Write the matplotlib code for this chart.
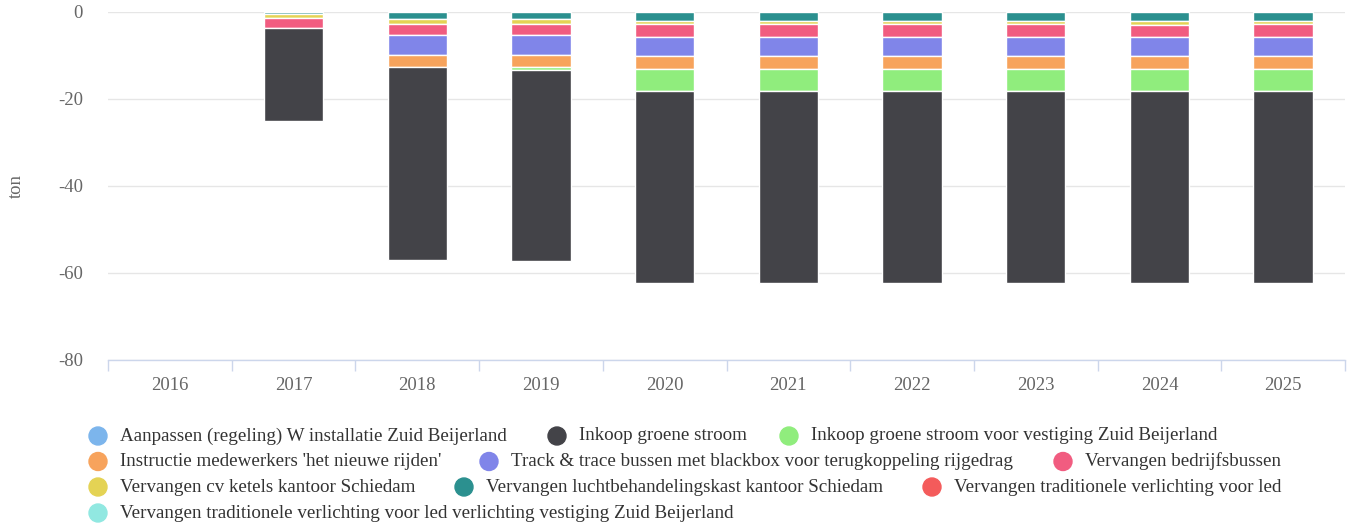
import matplotlib
matplotlib.use("Agg")
import matplotlib.pyplot as plt
from matplotlib.patches import Ellipse
import numpy as np

plt.rcParams['font.family'] = ['Liberation Serif', 'DejaVu Serif']

years = ['2016', '2017', '2018', '2019', '2020', '2021', '2022', '2023', '2024', '2025']

aanpassen_w_zb = [0, 0, 0, 0, 0, 0, 0, 0, 0, 0]
inkoop_groene_stroom = [0, -21.4, -44.2, -43.7, -44.0, -44.0, -44.0, -44.0, -44.0, -44.0]
inkoop_groene_stroom_zb = [0, 0, 0, -0.77, -5.15, -5.15, -5.15, -5.15, -5.15, -5.15]
instructie_rijden = [0, 0, -2.91, -2.87, -2.95, -2.95, -2.95, -2.95, -2.95, -2.95]
track_trace = [0, 0, -4.42, -4.42, -4.39, -4.39, -4.39, -4.39, -4.39, -4.39]
bedrijfsbussen = [0, -2.2, -2.6, -2.6, -3.0, -3.0, -3.0, -3.0, -2.6, -3.0]
cv_ketels = [0, -0.9, -1.1, -1.1, -0.7, -0.7, -0.7, -0.7, -1.05, -0.7]
luchtbehandeling = [0, -0.6, -1.77, -1.77, -2.13, -2.13, -2.13, -2.13, -2.13, -2.13]
verlichting_led = [0, 0, 0, 0, 0, 0, 0, 0, 0, 0]
verlichting_led_zb = [0, 0, 0, 0, 0, 0, 0, 0, 0, 0]

series_names = [
    "Aanpassen (regeling) W installatie Zuid Beijerland",
    "Inkoop groene stroom",
    "Inkoop groene stroom voor vestiging Zuid Beijerland",
    "Instructie medewerkers 'het nieuwe rijden'",
    "Track & trace bussen met blackbox voor terugkoppeling rijgedrag",
    "Vervangen bedrijfsbussen",
    "Vervangen cv ketels kantoor Schiedam",
    "Vervangen luchtbehandelingskast kantoor Schiedam",
    "Vervangen traditionele verlichting voor led",
    "Vervangen traditionele verlichting voor led verlichting vestiging Zuid Beijerland",
]
series_values = [aanpassen_w_zb, inkoop_groene_stroom, inkoop_groene_stroom_zb,
                 instructie_rijden, track_trace, bedrijfsbussen, cv_ketels,
                 luchtbehandeling, verlichting_led, verlichting_led_zb]
colors = ['#7cb5ec', '#434348', '#90ed7d', '#f7a35c', '#8085e9',
          '#f15c80', '#e4d354', '#2b908f', '#f45b5b', '#91e8e1']

W, H = 1353, 526
fig = plt.figure(figsize=(W / 100, H / 100), dpi=100)
left_px, right_px, top_px, bot_px = 108, 1345, 11.5, 360
ax = fig.add_axes([left_px / W, 1 - bot_px / H, (right_px - left_px) / W, (bot_px - top_px) / H])

x = np.arange(len(years))
# stack: last series closest to zero
bottom = np.zeros(len(years))
for name, vals, col in reversed(list(zip(series_names, series_values, colors))):
    v = np.array(vals, dtype=float)
    lw = [1.0 if val != 0 else 0.0 for val in v]
    ax.bar(x, v, bottom=bottom, width=0.48, color=col, edgecolor='white', linewidth=lw, zorder=3)
    bottom = bottom + v

ax.set_xlim(-0.5, len(years) - 0.5)
ax.set_ylim(-80, 0)
ax.set_yticks([-80, -60, -40, -20, 0])
ax.set_yticklabels(['-80', '-60', '-40', '-20', '0'])
ax.grid(axis='y', color='#e6e6e6', linewidth=1, zorder=0)
ax.set_axisbelow(True)
for s in ['top', 'right', 'left']:
    ax.spines[s].set_visible(False)
ax.spines['bottom'].set_color('#ccd6eb')
ax.spines['bottom'].set_linewidth(1)
ax.tick_params(axis='y', length=0, pad=18, labelsize=13.5, labelcolor='#666666')
ax.set_xticks(x)
ax.set_xticklabels(years)
ax.tick_params(axis='x', length=0, pad=12, labelsize=13.5, labelcolor='#666666')
ax.set_xticks(np.arange(-0.5, len(years), 1.0), minor=True)
ax.tick_params(axis='x', which='minor', length=8, color='#ccd6eb', width=1)
fig.text(16 / W, 1 - 186 / H, 'ton', rotation=90, color='#666666', fontsize=13.5,
         ha='center', va='center')

# legend drawn manually (Highcharts style)
legend_rows = [
    [(0, 98), (1, 557), (2, 789)],
    [(3, 98), (4, 489), (5, 1063)],
    [(6, 98), (7, 464), (8, 932)],
    [(9, 98)],
]
row_y = [436, 461.5, 487, 513]
for r, items in enumerate(legend_rows):
    yy = 1 - row_y[r] / H
    for idx, mx in items:
        e = Ellipse((mx / W, yy), 18 / W, 18 / H, transform=fig.transFigure,
                    color=colors[idx], clip_on=False)
        fig.patches.append(e)
        fig.text((mx + 22) / W, yy, series_names[idx], fontsize=13.7, color='#333333',
                 va='center', ha='left')

fig.savefig('out.png', dpi=100)
